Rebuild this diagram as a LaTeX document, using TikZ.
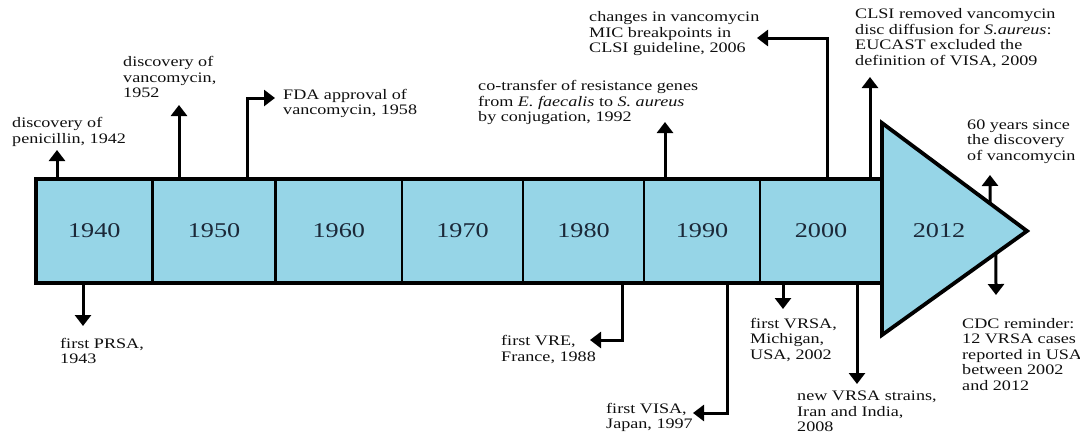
\documentclass[tikz,border=0pt]{standalone}
\usepackage{fontspec}
\setmainfont[FakeStretch=1.25]{Liberation Serif}
\usetikzlibrary{arrows.meta,calc}
\definecolor{barfill}{RGB}{150,213,231}
\definecolor{yeartxt}{RGB}{27,40,56}
\definecolor{evtxt}{RGB}{15,15,15}
\begin{document}
\begin{tikzpicture}[x=1pt,y=-1pt,
  cell/.style={draw=black, line width=2.9pt, fill=barfill, minimum height=104pt,
    inner sep=0pt, outer sep=0pt, font=\fontsize{21}{24}\selectfont, text=yeartxt},
  yearlbl/.style={inner sep=0pt, font=\fontsize{21}{24}\selectfont, text=yeartxt},
  outline/.style={draw=black, line width=3.8pt, line join=miter},
  evt/.style={draw=black, line width=3pt, -{Triangle[length=11pt,width=16pt]}},
  lbl/.style={anchor=north west, inner sep=0pt, align=left,
    font=\fontsize{14.5}{15.5}\selectfont, text=evtxt}]
\useasboundingbox (0,0) rectangle (1080,434);

% arrowhead geometry
\coordinate (h1) at (882,123);
\coordinate (htip) at (1027,231);
\coordinate (h2) at (882,335);

% connector end points
\coordinate (s1) at (57,179);   \coordinate (e1) at (57,150);
\coordinate (s2) at (179,179);  \coordinate (e2) at (179,105);
\coordinate (s3) at (247,179);  \coordinate (k3) at (247,98);  \coordinate (e3) at (275,98);
\coordinate (s4) at (665,179);  \coordinate (e4) at (665,122);
\coordinate (s5) at (827,179);  \coordinate (k5) at (827,38);  \coordinate (e5) at (757,38);
\coordinate (s6) at (870,179);  \coordinate (e6) at (870,77);
\coordinate (s7) at ($(h1)!0.745!(htip)$); \coordinate (e7) at (990,175);
\coordinate (b1) at (83,283);   \coordinate (f1) at (83,326);
\coordinate (b2) at (622,283);  \coordinate (k2) at (622,340); \coordinate (f2) at (590,340);
\coordinate (b3) at (727,283);  \coordinate (k4) at (727,413); \coordinate (f3) at (693,413);
\coordinate (b4) at (783,283);  \coordinate (f4) at (783,309);
\coordinate (b5) at (857,283);  \coordinate (f5) at (857,384);
\coordinate (b6) at ($(h2)!0.786!(htip)$); \coordinate (f6) at (996,295);

% connectors
\draw[evt] (s1) -- (e1);
\draw[evt] (s2) -- (e2);
\draw[evt] (s3) -- (k3) -- (e3);
\draw[evt] (s4) -- (e4);
\draw[evt] (s5) -- (k5) -- (e5);
\draw[evt] (s6) -- (e6);
\draw[evt] (s7) -- (e7);
\draw[evt] (b1) -- (f1);
\draw[evt] (b2) -- (k2) -- (f2);
\draw[evt] (b3) -- (k4) -- (f3);
\draw[evt] (b4) -- (f4);
\draw[evt] (b5) -- (f5);
\draw[evt] (b6) -- (f6);

% timeline bar
\node[cell, minimum width=116.5pt] (c1940) at (94.25,231) {1940};
\node[cell, minimum width=123pt]   (c1950) at (214,231)   {1950};
\node[cell, minimum width=126.5pt] (c1960) at (338.75,231){1960};
\node[cell, minimum width=121pt]   (c1970) at (462.5,231) {1970};
\node[cell, minimum width=121pt]   (c1980) at (583.5,231) {1980};
\node[cell, minimum width=116pt]   (c1990) at (702,231)   {1990};
\node[cell, minimum width=122pt]   (c2000) at (821,231)   {2000};
\draw[outline] (c1940.north west) rectangle (c2000.south east);
\draw[outline, fill=barfill] (h1) -- (htip) -- (h2) -- cycle;
\node[yearlbl] (c2012) at (939,231) {2012};

% labels
\node[lbl] (t1) at (12,117.5) {discovery of\\penicillin, 1942};
\node[lbl] (t2) at (123,56.5) {discovery of\\vancomycin,\\1952};
\node[lbl] (t3) at (283,89) {FDA approval of\\vancomycin, 1958};
\node[lbl] (t4) at (478,80.5) {co-transfer of resistance genes\\from \textit{E. faecalis} to \textit{S. aureus}\\by conjugation, 1992};
\node[lbl] (t5) at (589,11.5) {changes in vancomycin\\MIC breakpoints in\\CLSI guideline, 2006};
\node[lbl] (t6) at (855,8.5) {CLSI removed vancomycin\\disc diffusion for \textit{S.aureus}:\\EUCAST excluded the\\definition of VISA, 2009};
\node[lbl] (t7) at (967,119.5) {60 years since\\the discovery\\of vancomycin};
\node[lbl] (t8) at (60,338) {first PRSA,\\1943};
\node[lbl] (t9) at (501,335.5) {first VRE,\\France, 1988};
\node[lbl] (t10) at (606,403) {first VISA,\\Japan, 1997};
\node[lbl] (t11) at (750,318) {first VRSA,\\Michigan,\\USA, 2002};
\node[lbl] (t12) at (797,391) {new VRSA strains,\\Iran and India,\\2008};
\node[lbl] (t13) at (962,318) {CDC reminder:\\12 VRSA cases\\reported in USA\\between 2002\\and 2012};
\end{tikzpicture}
\end{document}
